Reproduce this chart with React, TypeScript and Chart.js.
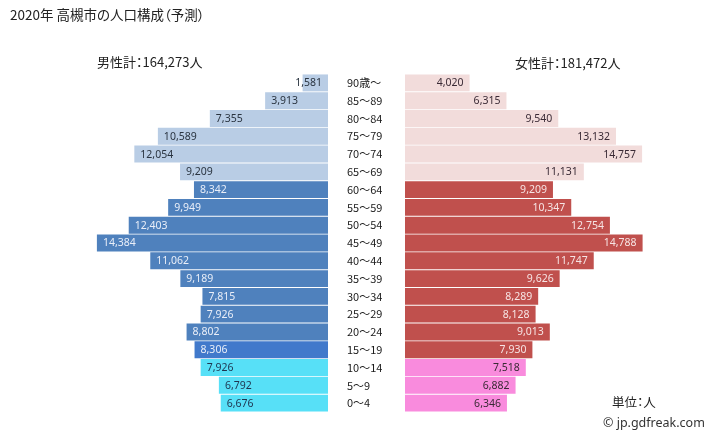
import React, { useEffect, useRef } from 'react';
import { Chart, registerables } from 'chart.js';

Chart.register(...registerables);

const ageLabels = ['90歳～', '85～89', '80～84', '75～79', '70～74', '65～69', '60～64', '55～59', '50～54', '45～49', '40～44', '35～39', '30～34', '25～29', '20～24', '15～19', '10～14', '5～9', '0～4'];
const maleValues = [1581, 3913, 7355, 10589, 12054, 9209, 8342, 9949, 12403, 14384, 11062, 9189, 7815, 7926, 8802, 8306, 7926, 6792, 6676];
const femaleValues = [4020, 6315, 9540, 13132, 14757, 11131, 9209, 10347, 12754, 14788, 11747, 9626, 8289, 8128, 9013, 7930, 7518, 6882, 6346];
const ageGroups = ['old', 'old', 'old', 'old', 'old', 'old', 'work', 'work', 'work', 'work', 'work', 'work', 'work', 'work', 'work', 'work', 'young', 'young', 'young'];

const maleBarColors = ageGroups.map((g, i) => g === 'old' ? '#b9cde5' : g === 'young' ? '#57e0f7' : (i === 15 ? '#4179cb' : '#4f81bd'));
const femaleBarColors = ageGroups.map((g) => g === 'old' ? '#f2dcdb' : g === 'young' ? '#f98bdd' : '#c0504d');
const maleTextColors = ageGroups.map((g) => g === 'work' ? '#e9eef8' : g === 'young' ? '#1f3550' : '#2a3440');
const femaleTextColors = ageGroups.map((g) => g === 'work' ? '#f6e4e4' : '#3a2a35');

const AXIS_MAX = 15000;

function makeLabelPlugin(side: 'male' | 'female', values: number[], colors: string[]) {
  return {
    id: 'valueLabels_' + side,
    afterDatasetsDraw(chart: any) {
      const ctx = chart.ctx;
      const meta = chart.getDatasetMeta(0);
      ctx.save();
      ctx.font = '10.5px "Noto Sans", "DejaVu Sans", sans-serif';
      ctx.textBaseline = 'middle';
      meta.data.forEach((bar: any, i: number) => {
        const p = bar.getProps(['x', 'y', 'base'], true);
        const text = values[i].toLocaleString('en-US');
        const w = ctx.measureText(text).width;
        ctx.fillStyle = colors[i];
        ctx.textAlign = 'left';
        if (side === 'male') {
          const left = Math.min(p.x, p.base);
          const right = Math.max(p.x, p.base);
          let tx = left + 6;
          if (tx + w > right - 6) tx = right - 6 - w;
          ctx.fillText(text, tx, p.y + 0.5);
        } else {
          const right = Math.max(p.x, p.base);
          ctx.fillText(text, right - 6 - w, p.y + 0.5);
        }
      });
      ctx.restore();
    },
  };
}

export default function App() {
  const maleRef = useRef<HTMLCanvasElement>(null);
  const femaleRef = useRef<HTMLCanvasElement>(null);

  useEffect(() => {
    document.body.style.margin = '0';
    const common = {
      indexAxis: 'y' as const,
      responsive: false,
      animation: false as const,
      plugins: { legend: { display: false }, tooltip: { enabled: false } },
    };
    const male = new Chart(maleRef.current!, {
      type: 'bar',
      data: {
        labels: ageLabels,
        datasets: [{ data: maleValues, backgroundColor: maleBarColors, borderWidth: 0, barPercentage: 1, categoryPercentage: 0.95 }],
      },
      options: {
        ...common,
        layout: { padding: { left: 7, right: 2, top: 74, bottom: 27 } },
        scales: {
          x: { display: false, reverse: true, min: 0, max: AXIS_MAX },
          y: { display: false },
        },
      },
      plugins: [makeLabelPlugin('male', maleValues, maleTextColors)],
    } as any);
    const female = new Chart(femaleRef.current!, {
      type: 'bar',
      data: {
        labels: ageLabels,
        datasets: [{ data: femaleValues, backgroundColor: femaleBarColors, borderWidth: 0, barPercentage: 1, categoryPercentage: 0.95 }],
      },
      options: {
        ...common,
        layout: { padding: { left: 7, right: 14, top: 74, bottom: 27 } },
        scales: {
          x: { display: false, min: 0, max: AXIS_MAX },
          y: {
            display: true,
            grid: { display: false },
            border: { display: false },
            ticks: {
              crossAlign: 'far',
              padding: 0,
              color: '#1a1a1a',
              font: { family: '"Noto Sans CJK JP", sans-serif', size: 11 },
            },
            afterFit(scale: any) { scale.width = 58; },
          },
        },
      },
      plugins: [makeLabelPlugin('female', femaleValues, femaleTextColors)],
    } as any);
    return () => { male.destroy(); female.destroy(); };
  }, []);

  const jp = '"Noto Sans CJK JP", sans-serif';
  const txt = (left: number, cy: number, size: number, s: string, extra: any = {}) => (
    <div style={{ position: 'absolute', left, top: cy - size / 2 - 1, fontSize: size, lineHeight: `${size + 2}px`, fontFamily: jp, color: '#222', whiteSpace: 'nowrap', fontFeatureSettings: '"palt"', ...extra }}>{s}</div>
  );

  return (
    <div style={{ position: 'relative', width: 719, height: 439, background: '#fff', overflow: 'hidden' }}>
      <canvas ref={maleRef} width={250} height={439} style={{ position: 'absolute', left: 80, top: 0 }} />
      <canvas ref={femaleRef} width={320} height={439} style={{ position: 'absolute', left: 340, top: 0 }} />
      {txt(10, 15, 13.5, '2020年 高槻市の人口構成（予測）')}
      {txt(97, 61, 13, '男性計：164,273人')}
      {txt(515, 62, 13, '女性計：181,472人')}
      {txt(612, 402, 12.5, '単位：人')}
      {txt(603, 423, 12.5, '© jp.gdfreak.com', { fontFamily: '"Noto Sans", sans-serif', color: '#333' })}
    </div>
  );
}
